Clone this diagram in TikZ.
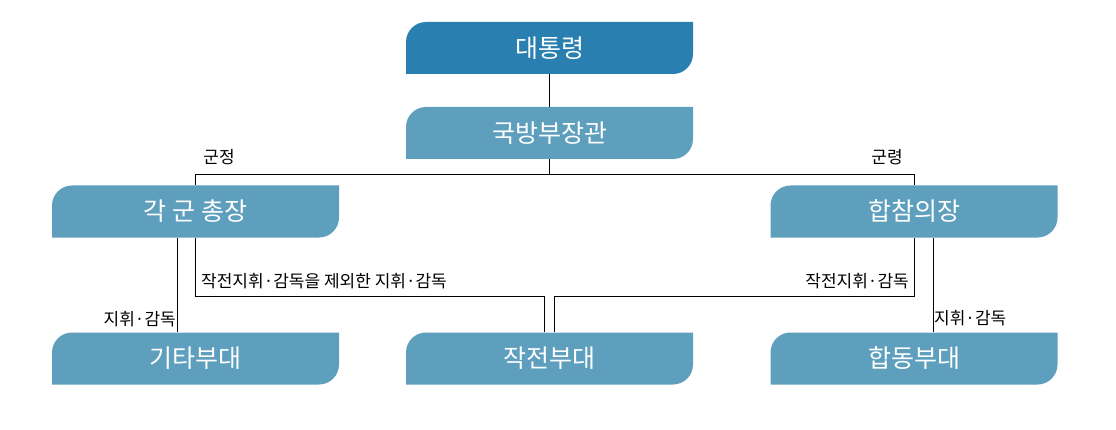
\documentclass[tikz,border=0pt]{standalone}
\usepackage{fontspec}
\setmainfont{Noto Sans CJK KR}
\definecolor{topblue}{RGB}{41,128,176}
\definecolor{unitblue}{RGB}{94,159,190}
\begin{document}
\begin{tikzpicture}[x=1pt, y=1pt,
    cmd/.style={rectangle, minimum width=287pt, minimum height=52pt, inner sep=0pt,
                text=white, font=\fontsize{25}{30}\selectfont,
                path picture={\fill[#1] (path picture bounding box.south west)
                    -- ([yshift=-20pt]path picture bounding box.north west)
                    arc[start angle=180, end angle=90, radius=20pt]
                    -- (path picture bounding box.north east)
                    -- ([yshift=20pt]path picture bounding box.south east)
                    arc[start angle=0, end angle=-90, radius=20pt] -- cycle;}},
    cmd/.default=unitblue,
    note/.style={inner sep=1pt, font=\fontsize{17}{20}\selectfont}
]
    \useasboundingbox (0,0) rectangle (1116,429);

    \node[cmd=topblue] (pres)  at (549.5, 381)   {대통령};
    \node[cmd]         (mnd)   at (549.5, 296)   {국방부장관};
    \node[cmd]         (chief) at (195.5, 217.5) {각 군 총장};
    \node[cmd]         (jcs)   at (914, 217.5)   {합참의장};
    \node[cmd]         (other) at (195.5, 70.5)  {기타부대};
    \node[cmd]         (ops)   at (549.5, 70.5)  {작전부대};
    \node[cmd]         (joint) at (914, 70.5)    {합동부대};

    \draw (pres) -- (mnd);
    \draw (mnd.south) -- ++(0,-15) coordinate (mndj);
    \draw (chief.north) |- (mndj) -| (jcs.north);
    \draw ([xshift=-18pt]chief.south) -- ([xshift=-18pt]other.north);
    \draw (chief.south) -- ++(0,-58) -| ([xshift=-5pt]ops.north);
    \draw (jcs.south) -- ++(0,-58) -| ([xshift=5pt]ops.north);
    \draw ([xshift=19pt]jcs.south) -- ([xshift=19pt]joint.north);

    \node[note] (admin)  at (219, 272) {군정};
    \node[note] (oper)   at (887, 272) {군령};
    \node[note, anchor=east] (supl) at (177, 110) {지휘·감독};
    \node[note, anchor=west] (supx) at (200, 148) {작전지휘·감독을 제외한 지휘·감독};
    \node[note, anchor=east] (supo) at (910, 148) {작전지휘·감독};
    \node[note, anchor=west] (supr) at (933, 111) {지휘·감독};
\end{tikzpicture}
\end{document}
